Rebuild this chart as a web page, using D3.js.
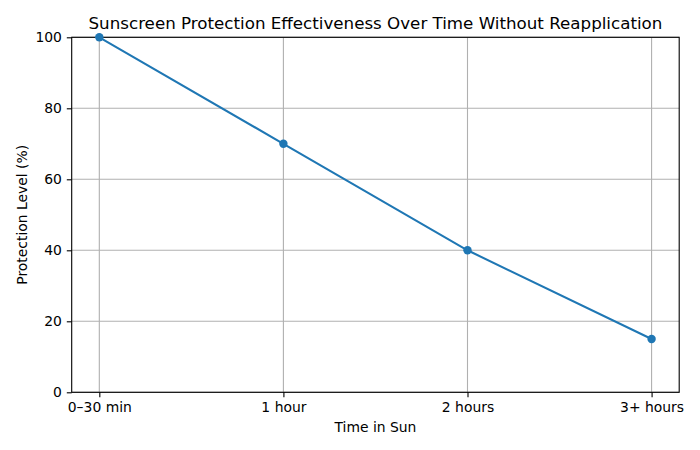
<!DOCTYPE html>
<html>
<head>
<meta charset="utf-8">
<script src="https://cdn.jsdelivr.net/npm/d3@7"></script>
<style>
  body { margin: 0; background: #fff; }
  text { font-family: "DejaVu Sans", sans-serif; fill: #000; }
</style>
</head>
<body>
<div class="chart"></div>
<script>
const categories = ["0\u201330 min", "1 hour", "2 hours", "3+ hours"];
const protection = [100, 70, 40, 15];
const yTicks = [0, 20, 40, 60, 80, 100];

const width = 700;
const height = 450;
const margin = {top: 37.3, right: 20.8, bottom: 57.7, left: 71.7};

const svg = d3.select(".chart")
    .append("svg")
    .attr("width", width)
    .attr("height", height);

const x = d3.scaleLinear()
    .domain([-0.15, categories.length - 1 + 0.15])
    .range([margin.left, width - margin.right]);

const y = d3.scaleLinear()
    .domain([0, 100])
    .range([height - margin.bottom, margin.top]);

// grid
svg.append("g")
    .selectAll("line")
    .data(categories)
    .join("line")
    .attr("x1", (d, i) => x(i))
    .attr("x2", (d, i) => x(i))
    .attr("y1", y(0))
    .attr("y2", y(100))
    .attr("stroke", "#b0b0b0")
    .attr("stroke-width", 1.1);

svg.append("g")
    .selectAll("line")
    .data(yTicks)
    .join("line")
    .attr("x1", x.range()[0])
    .attr("x2", x.range()[1])
    .attr("y1", d => y(d))
    .attr("y2", d => y(d))
    .attr("stroke", "#b0b0b0")
    .attr("stroke-width", 1.1);

// axes
const xAxis = svg.append("g")
    .attr("transform", `translate(0,${y(0)})`)
    .call(d3.axisBottom(x)
        .tickValues(d3.range(categories.length))
        .tickFormat(i => categories[i])
        .tickSize(4.9)
        .tickPadding(4.9));

const yAxis = svg.append("g")
    .attr("transform", `translate(${x.range()[0]},0)`)
    .call(d3.axisLeft(y)
        .tickValues(yTicks)
        .tickSize(4.9)
        .tickPadding(4.9));

[xAxis, yAxis].forEach(g => {
    g.select(".domain").remove();
    g.selectAll("line").attr("stroke", "#000").attr("stroke-width", 1.1);
    g.selectAll("text").attr("font-size", "13.9px").attr("font-family", "DejaVu Sans");
});

// spines
svg.append("rect")
    .attr("x", x.range()[0])
    .attr("y", y(100))
    .attr("width", x.range()[1] - x.range()[0])
    .attr("height", y(0) - y(100))
    .attr("fill", "none")
    .attr("stroke", "#000")
    .attr("stroke-width", 1.1);

// line
const line = d3.line()
    .x((d, i) => x(i))
    .y(d => y(d));

svg.append("path")
    .datum(protection)
    .attr("d", line)
    .attr("fill", "none")
    .attr("stroke", "#1f77b4")
    .attr("stroke-width", 2.08);

svg.append("g")
    .selectAll("circle")
    .data(protection)
    .join("circle")
    .attr("cx", (d, i) => x(i))
    .attr("cy", d => y(d))
    .attr("r", 4.2)
    .attr("fill", "#1f77b4");

// labels
svg.append("text")
    .attr("x", (x.range()[0] + x.range()[1]) / 2)
    .attr("y", 29)
    .attr("text-anchor", "middle")
    .attr("font-size", "16.7px")
    .text("Sunscreen Protection Effectiveness Over Time Without Reapplication");

svg.append("text")
    .attr("x", (x.range()[0] + x.range()[1]) / 2)
    .attr("y", 432)
    .attr("text-anchor", "middle")
    .attr("font-size", "13.9px")
    .text("Time in Sun");

svg.append("text")
    .attr("transform", `translate(27,${(y(0) + y(100)) / 2}) rotate(-90)`)
    .attr("text-anchor", "middle")
    .attr("font-size", "13.9px")
    .text("Protection Level (%)");
</script>
</body>
</html>
